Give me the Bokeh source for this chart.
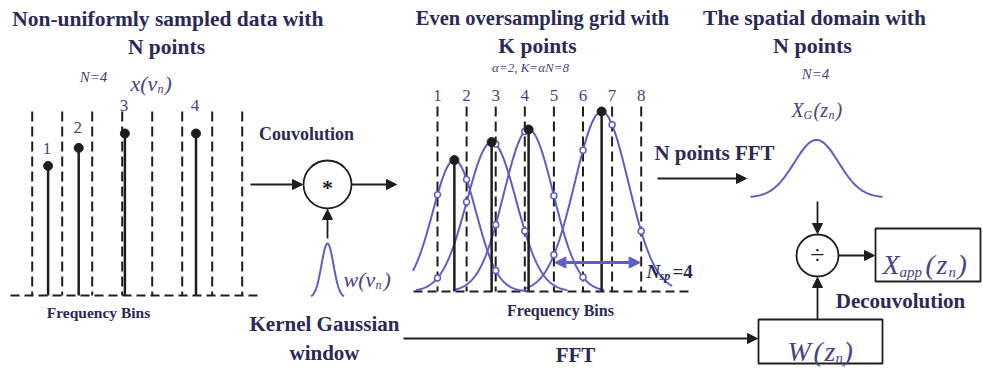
import numpy as np
from bokeh.plotting import figure
from bokeh.models import Range1d, Arrow, NormalHead
from bokeh.core.properties import value
from bokeh.embed import file_html
from bokeh.resources import INLINE

# ---------------- data ----------------
# Panel 1: non-uniformly sampled data (frequency-bin units, amplitude)
grid1_bins = [1, 2, 3, 4, 5, 6, 7, 8]
samp1_pos = [1.53, 2.55, 4.09, 6.46]
samp1_amp = [0.72, 0.82, 0.90, 0.90]
samp1_lab = ["1", "2", "3", "4"]

# Panel 2: even oversampling grid (K = 8)
grid2_bins = [1, 2, 3, 4, 5, 6, 7, 8]
grid2_lab = ["1", "2", "3", "4", "5", "6", "7", "8"]
samp2_pos = [1.58, 2.86, 4.13, 6.64]
samp2_amp = [0.73, 0.83, 0.90, 1.00]
samp2_width = [1.05, 1.20, 1.20, 1.30]   # kernel spread per sample (bins)
kernel_power = 2.0
nsp_bins = [5, 8]                          # N_sp = 4 span

# Kernel Gaussian window w(v_n) and X_G(z_n) bell (amplitude, sigma)
kern_amp, kern_sigma = 0.30, 0.20
xg_amp, xg_sigma = 0.32, 0.74

# ---------------- style ----------------
SERIF = "'Liberation Serif', 'Times New Roman', serif"
NAVY = "#2b2a55"
PURP = "#4a4282"
BLUE = "#5d5dc4"
INK = "#1e1e1e"

p = figure(width=983, height=369, x_range=Range1d(0, 983), y_range=Range1d(369, 0),
           output_backend="svg", toolbar_location=None, min_border=0,
           x_axis_location=None, y_axis_location=None, outline_line_color=None)
p.grid.visible = False
p.background_fill_color = "white"


def txt(x, y, s, size, style="bold", color=NAVY, align="center", baseline="middle"):
    p.text(x=[x], y=[y], text=[s], text_font=value(SERIF), text_font_size=f"{size}px",
           text_font_style=style, text_color=color, text_align=align, text_baseline=baseline)


def math(pieces, color=PURP):
    # pieces: (x, baseline_y, text, size, style)
    for x, y, s, size, style in pieces:
        txt(x, y, s, size, style=style, color=color, align="left", baseline="alphabetic")


def arrow(x0, y0, x1, y1, color=INK, width=1.8, size=10, both=False):
    head = lambda: NormalHead(size=size, fill_color=color, line_color=color)
    p.add_layout(Arrow(x_start=x0, y_start=y0, x_end=x1, y_end=y1, line_color=color,
                       line_width=width, end=head(), start=head() if both else None))


# ---------------- panel 1 ----------------
P1X0, P1S, P1Y0, AMP = 31.7, 30.0, 295.0, 180.0
px1 = lambda b: P1X0 + (np.asarray(b, float) - 1) * P1S
gx1 = px1(grid1_bins)
p.segment(x0=gx1, y0=[111] * len(gx1), x1=gx1, y1=[P1Y0] * len(gx1),
          line_color=INK, line_width=2, line_dash="10 5")
p.line(x=[10, 258], y=[P1Y0, P1Y0], line_color=INK, line_width=2, line_dash="9 5")
sx1 = px1(samp1_pos)
sy1 = P1Y0 - np.asarray(samp1_amp) * AMP
p.segment(x0=sx1, y0=[P1Y0] * 4, x1=sx1, y1=sy1, line_color=INK, line_width=2.5)
p.scatter(x=sx1, y=sy1, size=9, color=INK)
lab_dy = [17, 20, 28, 28]
for x, y, s, d in zip(sx1, sy1, samp1_lab, lab_dy):
    txt(x - 1, y - d, s, 17, style="normal", color=PURP)

txt(170, 18, "Non-uniformly sampled  data with", 21.5)
txt(166, 46, "N points", 21.5)
txt(93, 76, "N=4", 15, style="italic", color=PURP)
math([(130, 83, "x(\u03bd", 22, "italic"), (157, 88, "n", 12, "italic"),
      (164, 83, ")", 22, "italic")])
txt(98, 312, "Frequency Bins", 15.5)

# ---------------- convolution ----------------
CX, CY, CR = 327, 184, 24
txt(306, 133, "Couvolution", 18)
p.circle(x=[CX], y=[CY], radius=CR, fill_color=None, line_color=INK, line_width=1.8)
txt(CX, CY + 3, "*", 22, style="bold", color=INK)
arrow(250, CY, CX - CR - 1, CY)
arrow(CX + CR, CY, 396, CY)
arrow(CX, 238, CX, CY + CR + 1)

kx = np.linspace(-0.55, 0.55, 60)
ky = 297 - kern_amp * AMP * np.exp(-kx ** 2 / (2 * kern_sigma ** 2))
p.line(x=CX + kx * P1S, y=ky, line_color=BLUE, line_width=2)
math([(343, 279, "w(\u03bd", 22, "italic"), (375, 284, "n", 12, "italic"),
      (383, 279, ")", 22, "italic")])
txt(324, 323, "Kernel Gaussian", 21)
txt(324, 352, "window", 21)

# ---------------- panel 2 ----------------
P2X0, P2S, P2Y0 = 437.0, 29.1, 291.0
px2 = lambda b: P2X0 + (np.asarray(b, float) - 1) * P2S
gx2 = px2(grid2_bins)
p.segment(x0=gx2, y0=[106] * len(gx2), x1=gx2, y1=[P2Y0] * len(gx2),
          line_color=INK, line_width=2, line_dash="10 5")
p.line(x=[413, 690], y=[P2Y0, P2Y0], line_color=INK, line_width=2, line_dash="9 5")
for x, s in zip(gx2, grid2_lab):
    txt(x, 95, s, 17, style="normal", color=PURP)

mk_x, mk_y = [], []
for c, a, w in zip(samp2_pos, samp2_amp, samp2_width):
    b = np.linspace(c - 2.6, c + 2.6, 240)
    v = a * np.exp(-(np.abs(b - c) / w) ** kernel_power)
    keep = (px2(b) >= 412) & (px2(b) <= 672)
    p.line(x=px2(b)[keep], y=(P2Y0 - v * AMP)[keep], line_color=BLUE, line_width=2)
    for g in grid2_bins:
        d = abs(g - c)
        vg = a * np.exp(-(d / w) ** kernel_power)
        if d < 2.3 and vg > 0.04:
            mk_x.append(px2(g))
            mk_y.append(P2Y0 - vg * AMP)
sx2 = px2(samp2_pos)
sy2 = P2Y0 - np.asarray(samp2_amp) * AMP
p.segment(x0=sx2, y0=[P2Y0] * 4, x1=sx2, y1=sy2, line_color=INK, line_width=2.5)
p.scatter(x=mk_x, y=mk_y, size=6, fill_color="white", line_color=BLUE, line_width=1.5)
p.scatter(x=sx2, y=sy2, size=9, color=INK)

nx = px2(nsp_bins)
arrow(nx[0] + 1, 262, nx[1] - 1, 262, color=BLUE, width=3, size=11, both=True)
math([(646, 271, "N", 19, "bold italic"), (659, 275, "sp", 12, "bold italic"),
      (672, 271, "=4", 19, "bold")], color=NAVY)

txt(542, 17, "Even oversampling grid with", 20.5)
txt(537, 45, "K points", 21.5)
txt(530, 67, "\u03b1=2, K=\u03b1N=8", 13, style="italic", color=PURP)
txt(560, 310, "Frequency Bins", 16)

# ---------------- FFT paths ----------------
txt(714, 152, "N points FFT", 21)
arrow(657, 178, 746, 178)
arrow(403, 338, 757, 338)
txt(575, 354, "FFT", 21)

# ---------------- panel 3 ----------------
txt(814, 17, "The spatial domain with", 21.5)
txt(812, 45, "N points", 22)
txt(815, 73, "N=4", 15, style="italic", color=PURP)
math([(791, 109, "X", 20, "italic"), (803, 114, "G", 12, "italic"),
      (813, 109, "(z", 20, "italic"), (828, 114, "n", 12, "italic"),
      (835, 109, ")", 20, "italic")])
bx = np.linspace(-2.2, 2.2, 120)
by = 197 - xg_amp * AMP * np.exp(-bx ** 2 / (2 * xg_sigma ** 2))
p.line(x=816 + bx * P1S, y=by, line_color=BLUE, line_width=2)

DX, DY, DR = 817, 255, 21
arrow(DX, 201, DX, DY - DR - 1)
p.circle(x=[DX], y=[DY], radius=DR, fill_color=None, line_color=INK, line_width=1.8)
txt(DX, DY, "\u00f7", 26, style="normal", color=INK)
arrow(DX + DR, DY, 874, DY)
p.quad(left=[875], right=[980], top=[228], bottom=[281], fill_color=None,
       line_color=INK, line_width=1.8)
math([(882, 264, "X", 28, "italic"), (899, 271, "app", 15, "italic"),
      (925, 264, "(", 28, "italic"), (936, 264, "z", 28, "italic"),
      (948, 271, "n", 15, "italic"), (957, 264, ")", 28, "italic")])

arrow(DX, 319, DX, DY + DR + 1)
txt(900, 300, "Decouvolution", 21)
p.quad(left=[758], right=[882], top=[319], bottom=[363], fill_color=None,
       line_color=INK, line_width=1.8)
math([(787, 351, "W", 28, "italic"), (813, 351, "(", 28, "italic"),
      (824, 351, "z", 28, "italic"), (835, 357, "n", 15, "italic"),
      (843, 351, ")", 28, "italic")])

open("out.html", "w").write(file_html(p, INLINE))
